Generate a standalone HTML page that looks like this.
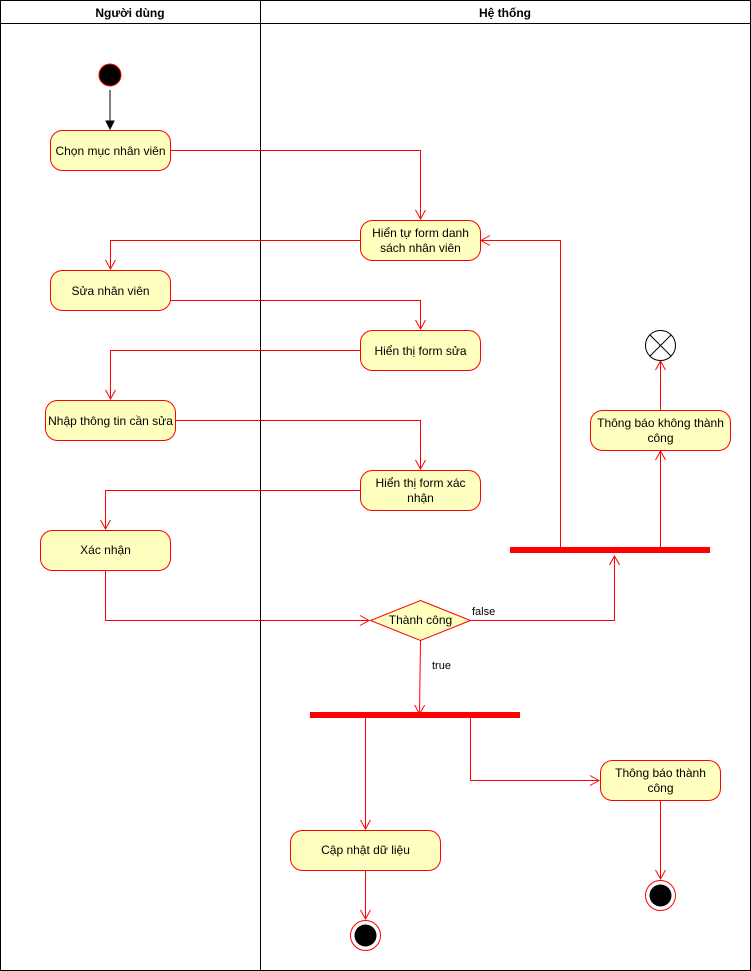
<!DOCTYPE html>
<html><head><meta charset="utf-8"><style>html,body{margin:0;padding:0;background:#fff}svg{display:block}text{font-family:"Liberation Sans",Arial,sans-serif;font-size:12px;fill:#000}</style></head><body>
<svg width="751" height="971" viewBox="0 0 751 971" xmlns="http://www.w3.org/2000/svg">
<defs>
<marker id="a" markerWidth="12" markerHeight="12" refX="10" refY="6" orient="auto" markerUnits="userSpaceOnUse"><path d="M1,1 L10,6 L1,11" fill="none" stroke="#ff0000" stroke-width="1"/></marker>
<marker id="b" markerWidth="10" markerHeight="10" refX="9" refY="5" orient="auto" markerUnits="userSpaceOnUse"><path d="M1,1 L9,5 L1,9 Z" fill="#000" stroke="#000"/></marker>
</defs>
<rect x="0.5" y="0.5" width="750" height="970" fill="#fff" stroke="#000"/>
<line x1="0" y1="23.5" x2="751" y2="23.5" stroke="#000"/>
<line x1="260.5" y1="0" x2="260.5" y2="971" stroke="#000"/>
<text x="130" y="17" text-anchor="middle" font-weight="bold">Người dùng</text>
<text x="505" y="17" text-anchor="middle" font-weight="bold">Hệ thống</text>
<circle cx="110" cy="75" r="11" fill="#000" stroke="#ff0000"/>
<line x1="110" y1="90" x2="110" y2="129" stroke="#000" marker-end="url(#b)"/>
<g fill="none" stroke="#ff0000" marker-end="url(#a)">
<polyline points="170,150.5 420.5,150.5 420.5,219"/>
<polyline points="360,240.5 110.5,240.5 110.5,269"/>
<polyline points="170,300.5 420.5,300.5 420.5,329"/>
<polyline points="360,350.5 110.5,350.5 110.5,399"/>
<polyline points="175,420.5 420.5,420.5 420.5,469"/>
<polyline points="360,490.5 105.5,490.5 105.5,529"/>
<polyline points="105.5,570 105.5,620.5 369,620.5"/>
<polyline points="470,620.5 614.5,620.5 614.5,556"/>
<polyline points="420.5,640 419.5,714"/>
<polyline points="560.5,548 560.5,240.5 481,240.5"/>
<polyline points="660.5,548 660.5,451"/>
<polyline points="660.5,410 660.5,361"/>
<polyline points="365.5,718 365.5,829"/>
<polyline points="470.5,718 470.5,780.5 599,780.5"/>
<polyline points="660.5,800 660.5,879"/>
<polyline points="365.5,870 365.5,919"/>
</g>
<g fill="#ffffc0" stroke="#ff0000">
<rect x="50.5" y="130.5" width="120" height="40" rx="12"/>
<rect x="360.5" y="220.5" width="120" height="40" rx="12"/>
<rect x="50.5" y="270.5" width="120" height="40" rx="12"/>
<rect x="360.5" y="330.5" width="120" height="40" rx="12"/>
<rect x="45.5" y="400.5" width="130" height="40" rx="12"/>
<rect x="360.5" y="470.5" width="120" height="40" rx="12"/>
<rect x="40.5" y="530.5" width="130" height="40" rx="12"/>
<rect x="590.5" y="410.5" width="140" height="40" rx="12"/>
<rect x="600.5" y="760.5" width="120" height="40" rx="12"/>
<rect x="290.5" y="830.5" width="150" height="40" rx="12"/>
<polygon points="420.5,600.5 470.5,620.5 420.5,640.5 370.5,620.5"/>
</g>
<rect x="510" y="547" width="200" height="6" fill="#ff0000"/>
<rect x="310" y="712" width="210" height="6" fill="#ff0000"/>
<circle cx="660.5" cy="345.5" r="15" fill="#fff" stroke="#000"/>
<line x1="650" y1="335" x2="671" y2="356" stroke="#000"/>
<line x1="671" y1="335" x2="650" y2="356" stroke="#000"/>
<circle cx="660.5" cy="895.5" r="15" fill="#fff" stroke="#ff0000"/>
<circle cx="660.5" cy="895.5" r="11" fill="#000"/>
<circle cx="365.5" cy="935.5" r="15" fill="#fff" stroke="#ff0000"/>
<circle cx="365.5" cy="935.5" r="11" fill="#000"/>
<g text-anchor="middle">
<text x="110.5" y="155">Chọn mục nhân viên</text>
<text x="420.5" y="237">Hiển tự form danh</text>
<text x="420.5" y="252">sách nhân viên</text>
<text x="110.5" y="295">Sửa nhân viên</text>
<text x="420.5" y="355">Hiển thị form sửa</text>
<text x="110.5" y="425">Nhập thông tin cần sửa</text>
<text x="420.5" y="487">Hiển thị form xác</text>
<text x="420.5" y="502">nhận</text>
<text x="105.5" y="554">Xác nhận</text>
<text x="660.5" y="427">Thông báo không thành</text>
<text x="660.5" y="442">công</text>
<text x="660.5" y="777">Thông báo thành</text>
<text x="660.5" y="792">công</text>
<text x="365.5" y="854">Cập nhật dữ liệu</text>
<text x="420.5" y="624">Thành công</text>
</g>
<text x="472" y="615" style="font-size:11px">false</text>
<text x="432" y="669" style="font-size:11px">true</text>
</svg>
</body></html>
